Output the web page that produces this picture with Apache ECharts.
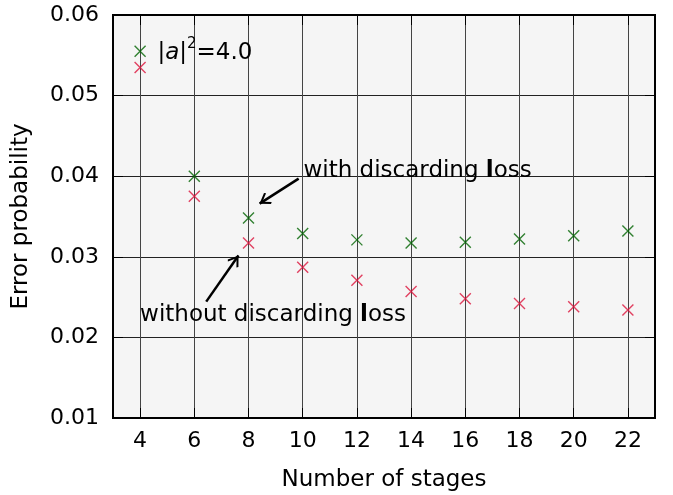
<!DOCTYPE html>
<html>
<head>
<meta charset="utf-8">
<script src="https://cdn.jsdelivr.net/npm/echarts@6/dist/echarts.min.js"></script>
<style>
  html, body { margin: 0; padding: 0; background: #fff; }
  #chart { width: 673px; height: 495px; }
</style>
</head>
<body>
<div id="chart"></div>
<script>
// Error probability versus number of stages, |a|^2 = 4.0
const stages = [4, 6, 8, 10, 12, 14, 16, 18, 20, 22];
const withDiscardingLoss = [0.0555, 0.0400, 0.0348, 0.0329, 0.0321, 0.0317, 0.0318, 0.0322, 0.0326, 0.0332];
const withoutDiscardingLoss = [0.0535, 0.0375, 0.0317, 0.0287, 0.0271, 0.0257, 0.0248, 0.0242, 0.0238, 0.0234];

const FONT = 'DejaVu Sans';
const CROSS = 'path://M0,0L10,10M10,0L0,10';
// open arrow head; the extra point keeps the tip at the symbol centre
const HEAD = 'path://M5,-8L5,-8M5,0L10,7L9,8.2L5,2.6L1,8.2L0,7Z';

const chart = echarts.init(document.getElementById('chart'));

const baseX = {
  type: 'value', min: 3, max: 23,
  axisLine: { show: true, lineStyle: { color: '#000', width: 2 } },
  axisTick: { show: true, inside: true, length: 10, customValues: stages, lineStyle: { color: '#000', width: 1 } },
  splitLine: { show: false }
};
const baseY = {
  type: 'value', min: 0.01, max: 0.06, interval: 0.01,
  axisLine: { show: true, lineStyle: { color: '#000', width: 2 } },
  axisTick: { show: true, inside: true, length: 10, lineStyle: { color: '#000', width: 1 } },
  splitLine: { show: false }
};

function crossSeries(name, values, color) {
  return {
    name: name,
    type: 'scatter',
    symbol: CROSS,
    symbolSize: 11,
    itemStyle: { color: 'transparent', borderColor: color, borderWidth: 1.4 },
    data: stages.map((s, i) => [s, values[i]]),
    z: 5
  };
}

const txt = { fontFamily: FONT, fontSize: 23, color: '#000' };
const bold = { fontFamily: FONT, fontSize: 23, color: '#000', fontWeight: 'bold' };

chart.setOption({
  animation: false,
  textStyle: { fontFamily: FONT },
  grid: {
    left: 113, right: 18, top: 15, bottom: 77,
    outerBoundsMode: 'none', containLabel: false,
    show: true, backgroundColor: '#f5f5f5', borderColor: '#000', borderWidth: 2
  },
  xAxis: [
    Object.assign({}, baseX, {
      position: 'bottom',
      name: 'Number of stages', nameLocation: 'middle', nameGap: 51,
      nameTextStyle: { fontFamily: FONT, fontSize: 23, color: '#000' },
      axisLabel: { customValues: stages, margin: 12, fontFamily: FONT, fontSize: 22, color: '#000' },
      splitLine: { show: true, lineStyle: { color: '#444', width: 1 } }
    }),
    Object.assign({}, baseX, { position: 'top', axisLabel: { show: false } })
  ],
  yAxis: [
    Object.assign({}, baseY, {
      position: 'left',
      name: 'Error probability', nameLocation: 'middle', nameGap: 80,
      nameTextStyle: { fontFamily: FONT, fontSize: 23, color: '#000' },
      axisLabel: { margin: 14, fontFamily: FONT, fontSize: 22, color: '#000',
        formatter: v => v.toFixed(2) },
      splitLine: { show: true, lineStyle: { color: '#222', width: 1 } }
    }),
    Object.assign({}, baseY, { position: 'right', axisLabel: { show: false } })
  ],
  series: [
    Object.assign(crossSeries('with discarding loss', withDiscardingLoss, '#006400'), {
      markLine: {
        silent: true, symbol: ['none', HEAD], symbolSize: [13, 22],
        lineStyle: { color: '#000', width: 2.5, type: 'solid' },
        label: { show: false },
        data: [
          [{ coord: [9.85, 0.0397] }, { coord: [8.41, 0.0366] }],
          [{ coord: [6.44, 0.02444] }, { coord: [7.63, 0.03015] }]
        ]
      },
      markPoint: {
        silent: true, symbol: 'circle', symbolSize: 0,
        data: [
          { coord: [10.03, 0.0406],
            label: { show: true, position: 'right', distance: 0,
              formatter: '{n|with discarding }{b|l}{n|oss}', rich: { n: txt, b: bold } } },
          { coord: [4.0, 0.0228],
            label: { show: true, position: 'right', distance: 0,
              formatter: '{n|without discarding }{b|l}{n|oss}', rich: { n: txt, b: bold } } },
          { coord: [4.64, 0.0556],
            label: { show: true, position: 'right', distance: 0,
              formatter: '{n||}{i|a}{n||}{s|2}{n|=4.0}',
              rich: {
                n: { fontFamily: FONT, fontSize: 23, color: '#000', lineHeight: 28, verticalAlign: 'bottom' },
                i: { fontFamily: FONT, fontSize: 23, fontStyle: 'italic', color: '#000', lineHeight: 28, verticalAlign: 'bottom' },
                s: { fontFamily: FONT, fontSize: 15, color: '#000', lineHeight: 15, verticalAlign: 'top' }
              } } }
        ]
      }
    }),
    crossSeries('without discarding loss', withoutDiscardingLoss, '#dc143c')
  ]
});
</script>
</body>
</html>
